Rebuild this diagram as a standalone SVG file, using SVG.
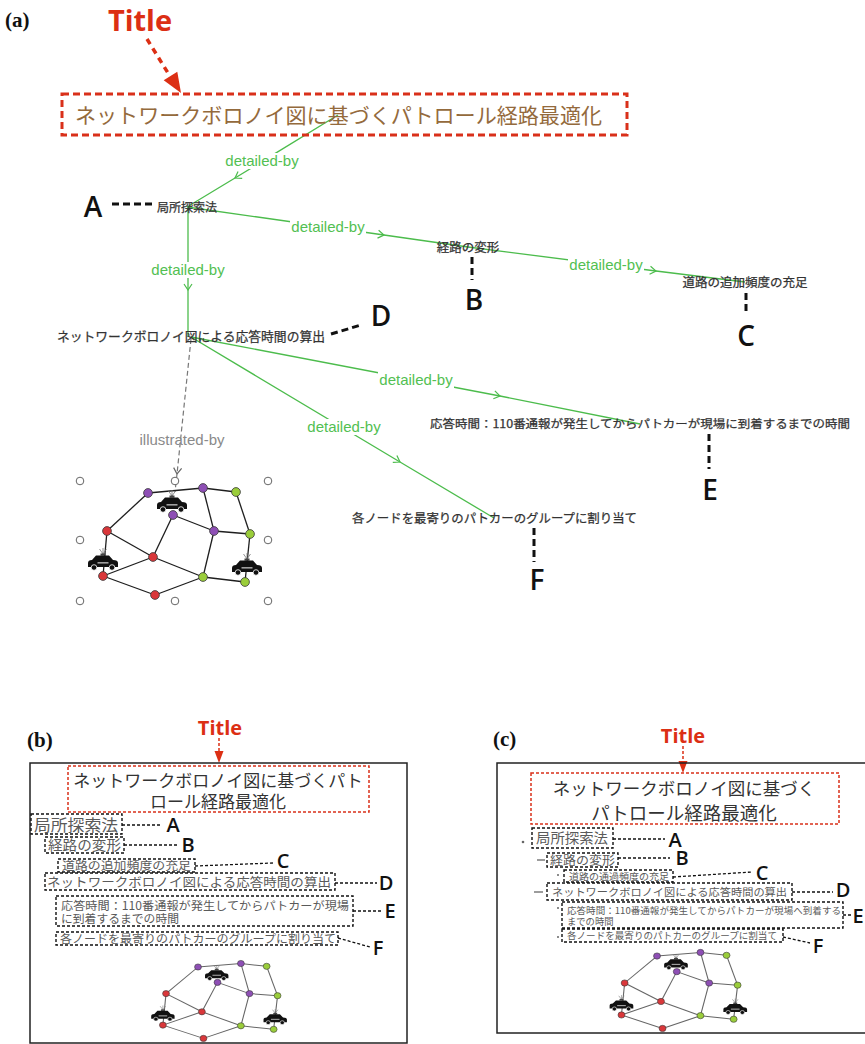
<svg xmlns="http://www.w3.org/2000/svg" xmlns:xlink="http://www.w3.org/1999/xlink" width="865" height="1044" viewBox="0 0 865 1044">
  <style>
    .panel { font-family: "Liberation Serif", serif; font-weight: bold; font-size: 21px; fill: #111; }
    .title-tag { font-family: "Open Sans", "DejaVu Sans", sans-serif; font-weight: 700; fill: #dc2f14; text-anchor: middle; }
    .tag { font-family: "Open Sans", "DejaVu Sans", sans-serif; font-weight: 600; fill: #111; text-anchor: middle; }
    .jp { font-family: "Noto Sans CJK JP", sans-serif; }
    .node-txt { fill: #333; stroke: #333; stroke-width: 0.25; text-anchor: middle; }
    .edge { fill: none; stroke: #4cbc4c; stroke-width: 1.3; marker-mid: url(#chev); }
    .edge-ill { fill: none; stroke: #777; stroke-width: 1.2; stroke-dasharray: 5 3; marker-mid: url(#chevGray); }
    .elab { font-family: "Liberation Sans", Arial, sans-serif; font-size: 15px; fill: #52c052; text-anchor: middle; }
    .elab-bg { fill: #fff; }
    .lead { fill: none; stroke: #111; stroke-width: 3; stroke-dasharray: 7 4; }
    .lead-s { fill: none; stroke: #111; stroke-width: 1.3; stroke-dasharray: 3 2; }
    .red-box { fill: none; stroke: #d9301a; stroke-width: 3; stroke-dasharray: 7 4; }
    .red-box-s { fill: none; stroke: #d9301a; stroke-width: 1.5; stroke-dasharray: 3 2; }
    .red-arrow { fill: none; stroke: #dc2f14; stroke-width: 3.5; stroke-dasharray: 6 5; }
    .red-arrow-s { fill: none; stroke: #dc2f14; stroke-width: 1.5; stroke-dasharray: 3 2; }
    .item-box { fill: none; stroke: #111; stroke-width: 1.4; stroke-dasharray: 3 2; }
    .item-txt { fill: #5a5a5a; }
    .slide-title { fill: #333; text-anchor: middle; }
    .frame { fill: none; stroke: #222; stroke-width: 1.5; }
    .blank { fill: #fff; stroke: #666; stroke-width: 1; }
  </style>
  <defs>
    <marker id="chev" viewBox="-7 -5 8 10" markerWidth="8" markerHeight="10" refX="0" refY="0" orient="auto" markerUnits="userSpaceOnUse">
      <path d="M-6,-4 L0,0 L-6,4" fill="none" stroke="#4cbc4c" stroke-width="1.2"/>
    </marker>
    <marker id="chevGray" viewBox="-7 -5 8 10" markerWidth="8" markerHeight="10" refX="0" refY="0" orient="auto" markerUnits="userSpaceOnUse">
      <path d="M-6,-4 L0,0 L-6,4" fill="none" stroke="#666" stroke-width="1.2"/>
    </marker>
    <!-- patrol car icon, centred on its body -->
    <g id="car">
      <line x1="0" y1="-9" x2="-3.5" y2="-14" stroke="#777" stroke-width="0.8"/>
      <line x1="0" y1="-9" x2="0" y2="-15" stroke="#777" stroke-width="0.8"/>
      <line x1="0" y1="-9" x2="3.5" y2="-14" stroke="#777" stroke-width="0.8"/>
      <rect x="-2.5" y="-9.5" width="5" height="2.2" fill="#444" stroke="none"/>
      <path d="M-15,4 L-15,0 Q-15,-3 -11,-3 L-7,-7.5 L6,-7.5 L10,-3 Q15,-3 15,0 L15,4 Z" fill="#111" stroke="none"/>
      <rect x="-5.5" y="-1" width="11" height="1.6" fill="#fff" opacity="0.6" stroke="none"/>
      <circle cx="-9" cy="4.5" r="2.8" fill="#111" stroke="#fff" stroke-width="0.8"/>
      <circle cx="9" cy="4.5" r="2.8" fill="#111" stroke="#fff" stroke-width="0.8"/>
    </g>
    <!-- road network divided among three patrol groups -->
    <g id="net">
      <g fill="none">
        <line x1="148" y1="493" x2="203" y2="488"/>
        <line x1="203" y1="488" x2="236" y2="492"/>
        <line x1="148" y1="493" x2="107" y2="531"/>
        <line x1="173" y1="515" x2="153" y2="557"/>
        <line x1="173" y1="515" x2="214" y2="531"/>
        <line x1="203" y1="488" x2="214" y2="531"/>
        <line x1="236" y1="492" x2="250" y2="534"/>
        <line x1="214" y1="531" x2="250" y2="534"/>
        <line x1="214" y1="531" x2="203" y2="577"/>
        <line x1="107" y1="531" x2="153" y2="557"/>
        <line x1="107" y1="531" x2="103" y2="576"/>
        <line x1="153" y1="557" x2="103" y2="576"/>
        <line x1="153" y1="557" x2="203" y2="577"/>
        <line x1="103" y1="576" x2="155" y2="595"/>
        <line x1="155" y1="595" x2="203" y2="577"/>
        <line x1="203" y1="577" x2="245" y2="582"/>
        <line x1="250" y1="534" x2="245" y2="582"/>
      </g>
      <use href="#car" transform="translate(172,505)"/>
      <use href="#car" transform="translate(103,563)"/>
      <use href="#car" transform="translate(247,568)"/>
      <g stroke="#3a3a3a" stroke-width="0.8">
        <circle cx="148" cy="493" r="4.4" fill="#8e4fb5"/>
        <circle cx="203" cy="488" r="4.4" fill="#8e4fb5"/>
        <circle cx="173" cy="515" r="4.4" fill="#8e4fb5"/>
        <circle cx="214" cy="531" r="4.4" fill="#8e4fb5"/>
        <circle cx="236" cy="492" r="4.4" fill="#9acd3a"/>
        <circle cx="250" cy="534" r="4.4" fill="#9acd3a"/>
        <circle cx="245" cy="582" r="4.4" fill="#9acd3a"/>
        <circle cx="203" cy="577" r="4.4" fill="#9acd3a"/>
        <circle cx="107" cy="531" r="4.4" fill="#d9373a"/>
        <circle cx="153" cy="557" r="4.4" fill="#d9373a"/>
        <circle cx="103" cy="576" r="4.4" fill="#d9373a"/>
        <circle cx="155" cy="595" r="4.4" fill="#d9373a"/>
      </g>
    </g>
  </defs>

  <rect width="865" height="1044" fill="#fff"/>

  <!-- ===================== (a) concept map ===================== -->
  <text class="panel" x="5" y="27">(a)</text>
  <text class="title-tag" x="140" y="31" font-size="29">Title</text>
  <line class="red-arrow" x1="147" y1="39" x2="168" y2="73"/>
  <polygon points="181,93 177.3,71.8 163.7,80.2" fill="#dc2f14"/>

  <g id="connectors">
    <polyline class="edge" points="338,115 235,178 187,207"/>
    <polyline class="edge" points="187,207 384,235 468,247"/>
    <polyline class="edge" points="188,209 188,290 188,337"/>
    <polyline class="edge" points="468,247 656,271 745,282"/>
    <polyline class="edge" points="191,337 500,396 640,424"/>
    <polyline class="edge" points="191,337 400,462 494,518"/>
    <polyline class="edge-ill" points="191,339 177,474 175,492"/>
    <g id="edge-labels">
      <rect class="elab-bg" x="224" y="153" width="76" height="16"/>
      <text class="elab" x="262" y="166">detailed-by</text>
      <rect class="elab-bg" x="290" y="219" width="76" height="16"/>
      <text class="elab" x="328" y="232">detailed-by</text>
      <rect class="elab-bg" x="150" y="262" width="76" height="16"/>
      <text class="elab" x="188" y="275">detailed-by</text>
      <rect class="elab-bg" x="568" y="257" width="76" height="16"/>
      <text class="elab" x="606" y="270">detailed-by</text>
      <rect class="elab-bg" x="378" y="372" width="76" height="16"/>
      <text class="elab" x="416" y="385">detailed-by</text>
      <rect class="elab-bg" x="306" y="419" width="76" height="16"/>
      <text class="elab" x="344" y="432">detailed-by</text>
      <text class="elab" x="182" y="445" style="fill:#8a8a8a">illustrated-by</text>
    </g>
  </g>

  <g id="node-title">
    <rect class="red-box" x="62" y="94" width="565" height="41"/>
    <text class="jp" x="338.5" y="123" font-size="21" fill="#946a3c" text-anchor="middle" textLength="527" lengthAdjust="spacingAndGlyphs">ネットワークボロノイ図に基づくパトロール経路最適化</text>
  </g>
  <g id="node-a">
    <text class="jp node-txt" x="187" y="211.6" font-size="12">局所探索法</text>
    <line class="lead" x1="112" y1="204" x2="155" y2="204"/>
    <text class="tag" x="93" y="217" font-size="28">A</text>
  </g>
  <g id="node-b">
    <text class="jp node-txt" x="468" y="251.7" font-size="12.5">経路の変形</text>
    <line class="lead" x1="472" y1="257" x2="472" y2="280"/>
    <text class="tag" x="474" y="310" font-size="28">B</text>
  </g>
  <g id="node-c">
    <text class="jp node-txt" x="745" y="287" font-size="12.5">道路の追加頻度の充足</text>
    <line class="lead" x1="746" y1="293" x2="746" y2="315"/>
    <text class="tag" x="746" y="346" font-size="28">C</text>
  </g>
  <g id="node-d">
    <text class="jp node-txt" x="191" y="340.8" font-size="12.7" textLength="268" lengthAdjust="spacingAndGlyphs">ネットワークボロノイ図による応答時間の算出</text>
    <line class="lead" x1="331" y1="334" x2="361" y2="325"/>
    <text class="tag" x="381" y="326" font-size="28">D</text>
  </g>
  <g id="node-e">
    <text class="jp node-txt" x="640" y="428.3" font-size="11.2" textLength="420" lengthAdjust="spacingAndGlyphs">応答時間：110番通報が発生してからパトカーが現場に到着するまでの時間</text>
    <line class="lead" x1="709" y1="434" x2="709" y2="469"/>
    <text class="tag" x="710" y="500" font-size="28">E</text>
  </g>
  <g id="node-f">
    <text class="jp node-txt" x="494.5" y="522.7" font-size="12.4" textLength="285" lengthAdjust="spacingAndGlyphs">各ノードを最寄りのパトカーのグループに割り当て</text>
    <line class="lead" x1="534" y1="528" x2="534" y2="562"/>
    <text class="tag" x="537" y="590" font-size="28">F</text>
  </g>
  <g id="node-image">
    <circle class="blank" cx="80" cy="481" r="3.8"/>
    <circle class="blank" cx="175" cy="481" r="3.8"/>
    <circle class="blank" cx="268" cy="481" r="3.8"/>
    <circle class="blank" cx="80" cy="540" r="3.8"/>
    <circle class="blank" cx="268" cy="540" r="3.8"/>
    <circle class="blank" cx="80" cy="601" r="3.8"/>
    <circle class="blank" cx="175" cy="601" r="3.8"/>
    <circle class="blank" cx="268" cy="601" r="3.8"/>
    <use href="#net" stroke="#1e1e1e" stroke-width="1.3"/>
  </g>

  <!-- ===================== (b) slide outline ===================== -->
  <g id="slide-b">
    <text class="panel" x="27" y="747">(b)</text>
    <text class="title-tag" x="220" y="735" font-size="20">Title</text>
    <line class="red-arrow-s" x1="219" y1="738" x2="219" y2="752"/>
    <polygon points="219,763 214.5,751 223.5,751" fill="#dc2f14"/>
    <rect class="frame" x="30" y="763" width="377" height="280"/>

    <rect class="red-box-s" x="68" y="766" width="301" height="46"/>
    <text class="jp slide-title" font-size="17"><tspan x="218" y="786.5">ネットワークボロノイ図に基づくパト</tspan><tspan x="218" y="807.5">ロール経路最適化</tspan></text>

    <rect class="item-box" x="31" y="814" width="91" height="20"/>
    <text class="jp item-txt" x="34" y="830.5" font-size="16" textLength="84" lengthAdjust="spacingAndGlyphs">局所探索法</text>
    <line class="lead-s" x1="122" y1="825" x2="162" y2="825"/>
    <text class="tag" x="173" y="832" font-size="20">A</text>

    <rect class="item-box" x="45" y="837" width="79" height="16"/>
    <text class="jp item-txt" x="48" y="850" font-size="13.5" textLength="73" lengthAdjust="spacingAndGlyphs">経路の変形</text>
    <line class="lead-s" x1="124" y1="845" x2="177" y2="845"/>
    <text class="tag" x="188" y="852" font-size="20">B</text>

    <rect class="item-box" x="58" y="859" width="137" height="13"/>
    <text class="jp item-txt" x="62" y="870" font-size="11.5" textLength="129" lengthAdjust="spacingAndGlyphs">道路の追加頻度の充足</text>
    <line class="lead-s" x1="195" y1="866" x2="273" y2="863"/>
    <text class="tag" x="283" y="868" font-size="20">C</text>

    <rect class="item-box" x="45" y="873" width="290" height="17"/>
    <text class="jp item-txt" x="47" y="886.5" font-size="12.5" textLength="284" lengthAdjust="spacingAndGlyphs">ネットワークボロノイ図による応答時間の算出</text>
    <line class="lead-s" x1="335" y1="883" x2="377" y2="883"/>
    <text class="tag" x="386" y="890" font-size="20">D</text>

    <rect class="item-box" x="56" y="896" width="297" height="30"/>
    <text class="jp item-txt" font-size="11.8"><tspan x="61" y="909.5" textLength="288" lengthAdjust="spacingAndGlyphs">応答時間：110番通報が発生してからパトカーが現場</tspan><tspan x="61" y="922.5">に到着するまでの時間</tspan></text>
    <line class="lead-s" x1="353" y1="911" x2="383" y2="911"/>
    <text class="tag" x="390" y="918" font-size="20">E</text>

    <rect class="item-box" x="56" y="932" width="282" height="13"/>
    <text class="jp item-txt" x="60" y="942.5" font-size="11.5" textLength="276" lengthAdjust="spacingAndGlyphs">各ノードを最寄りのパトカーのグループに割り当て</text>
    <line class="lead-s" x1="338" y1="938" x2="370" y2="947"/>
    <text class="tag" x="378" y="955" font-size="20">F</text>

    <use href="#net" transform="translate(82.56,621.9) scale(0.78,0.70)" stroke="#666" stroke-width="1.4"/>
  </g>

  <!-- ===================== (c) slide outline ===================== -->
  <g id="slide-c">
    <text class="panel" x="493" y="746">(c)</text>
    <text class="title-tag" x="683" y="743" font-size="20">Title</text>
    <line class="red-arrow-s" x1="683" y1="746" x2="683" y2="762"/>
    <polygon points="683,773 678.5,761 687.5,761" fill="#dc2f14"/>
    <rect class="frame" x="497" y="763" width="390" height="270"/>

    <rect class="red-box-s" x="531" y="773" width="308" height="51"/>
    <text class="jp slide-title" font-size="17.5"><tspan x="684" y="795">ネットワークボロノイ図に基づく</tspan><tspan x="684" y="820" font-size="18.5">パトロール経路最適化</tspan></text>

    <circle cx="523" cy="842" r="1.3" fill="#666"/>
    <rect class="item-box" x="532" y="828" width="81" height="20"/>
    <text class="jp item-txt" x="536" y="843" font-size="13.5" textLength="72" lengthAdjust="spacingAndGlyphs">局所探索法</text>
    <line class="lead-s" x1="613" y1="839" x2="665" y2="839"/>
    <text class="tag" x="675" y="847" font-size="20">A</text>

    <line x1="537" y1="860" x2="545" y2="860" stroke="#666" stroke-width="1.3"/>
    <rect class="item-box" x="547" y="853" width="71" height="14"/>
    <text class="jp item-txt" x="550" y="864.5" font-size="12" textLength="65" lengthAdjust="spacingAndGlyphs">経路の変形</text>
    <line class="lead-s" x1="618" y1="858" x2="670" y2="858"/>
    <text class="tag" x="682" y="865" font-size="20">B</text>

    <circle cx="558" cy="875" r="1" fill="#666"/>
    <rect class="item-box" x="564" y="870" width="109" height="12"/>
    <text class="jp item-txt" x="569" y="879.5" font-size="9.5" textLength="100" lengthAdjust="spacingAndGlyphs">道路の通過頻度の充足</text>
    <line class="lead-s" x1="673" y1="877" x2="752" y2="872"/>
    <text class="tag" x="762" y="880" font-size="20">C</text>

    <line x1="534" y1="892" x2="543" y2="892" stroke="#666" stroke-width="1.3"/>
    <rect class="item-box" x="547" y="883" width="245" height="17"/>
    <text class="jp item-txt" x="552" y="895.5" font-size="10.5" textLength="235" lengthAdjust="spacingAndGlyphs">ネットワークボロノイ図による応答時間の算出</text>
    <line class="lead-s" x1="792" y1="892" x2="833" y2="892"/>
    <text class="tag" x="843" y="897" font-size="20">D</text>

    <circle cx="558" cy="908" r="1" fill="#666"/>
    <rect class="item-box" x="562" y="902" width="281" height="26"/>
    <text class="jp item-txt" font-size="9.3"><tspan x="567" y="913.5" textLength="274" lengthAdjust="spacingAndGlyphs">応答時間：110番通報が発生してからパトカーが現場へ到着する</tspan><tspan x="567" y="925">までの時間</tspan></text>
    <line class="lead-s" x1="843" y1="915" x2="851" y2="915"/>
    <text class="tag" x="858" y="923" font-size="20">E</text>

    <circle cx="558" cy="937" r="1" fill="#666"/>
    <rect class="item-box" x="562" y="929" width="221" height="13"/>
    <text class="jp item-txt" x="567" y="939" font-size="9.2" textLength="210" lengthAdjust="spacingAndGlyphs">各ノードを最寄りのパトカーのグループに割当て</text>
    <line class="lead-s" x1="783" y1="937" x2="810" y2="943"/>
    <text class="tag" x="818" y="953" font-size="20">F</text>

    <use href="#net" transform="translate(540.1,606) scale(0.79,0.71)" stroke="#666" stroke-width="1.4"/>
  </g>
</svg>
